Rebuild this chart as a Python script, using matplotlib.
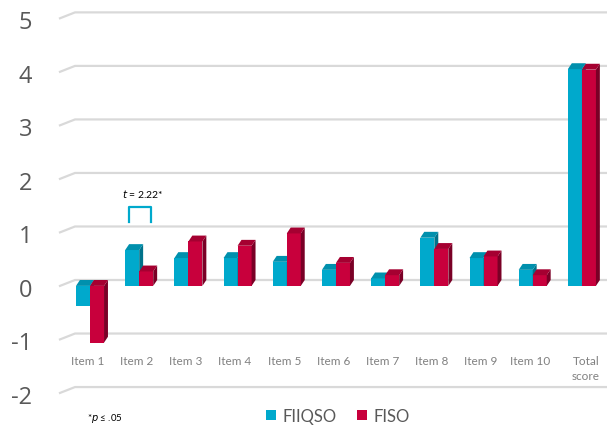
import numpy as np
import matplotlib.pyplot as plt
from matplotlib.patches import Polygon
from matplotlib.transforms import ScaledTranslation

# data
categories = ['Item 1', 'Item 2', 'Item 3', 'Item 4', 'Item 5', 'Item 6',
              'Item 7', 'Item 8', 'Item 9', 'Item 10', 'Total\nscore']
fiiqso = [-0.37, 0.67, 0.52, 0.52, 0.45, 0.30, 0.14, 0.90, 0.52, 0.30, 4.05]
fiso = [-1.06, 0.27, 0.83, 0.75, 0.98, 0.43, 0.20, 0.69, 0.55, 0.20, 4.04]
yticks = [-2, -1, 0, 1, 2, 3, 4, 5]

cyan = ['#00A9CC', '#0090AD', '#00728A']   # front, top, side
red = ['#C8003C', '#A50031', '#7A0026']

W, H = 607, 427
fig = plt.figure(figsize=(W / 100, H / 100), dpi=100)
plt.rcParams['font.family'] = ['Lato', 'DejaVu Sans']

# axes placed in pixel terms: left 60 -> right 607, top 0 -> bottom 410
ax = fig.add_axes([60 / W, (H - 410) / H, (W - 60) / W, 410 / H])
ax.set_xlim(-0.61, 10.51)
ax.set_ylim(-2.30, 5.36)
for s in ax.spines.values():
    s.set_visible(False)

# depth of the fake 3d effect in data units
dx, dy = 0.08, 0.11
wall = 0.305  # depth of the left wall

# gridlines on back wall with slanted corner on the left
for t in yticks:
    ax.plot([-0.61, -0.61 + wall, 10.6], [t, t + dy, t + dy],
            color='#D9D9D9', lw=1.6, zorder=1, clip_on=False,
            solid_joinstyle='round')

x = np.arange(len(categories))
w = 0.285


def bar3d(xs, vals, cols, z):
    ax.bar(xs, vals, width=w, color=cols[0], zorder=z, linewidth=0)
    for xc, v in zip(xs, vals):
        xl, xr = xc - w / 2, xc + w / 2
        lo, hi = min(v, 0), max(v, 0)
        side = Polygon([(xr, lo), (xr + dx, lo + dy), (xr + dx, hi + dy), (xr, hi)],
                       closed=True, fc=cols[2], ec='none', zorder=z)
        top = Polygon([(xl, hi), (xl + dx, hi + dy), (xr + dx, hi + dy), (xr, hi)],
                      closed=True, fc=cols[1], ec='none', zorder=z)
        ax.add_patch(side)
        ax.add_patch(top)


bar3d(x - w / 2, fiiqso, cyan, 2)
bar3d(x + w / 2, fiso, red, 3)

# category labels
for xc, lab in zip(x, categories):
    off = 0.08 if '\n' in lab else -0.05
    ax.text(xc + off, -1.30, lab, ha='center', va='top', fontsize=8.5,
            color='#808080', linespacing=1.4)

# value axis labels, a little below the front gridline position
ax.set_xticks([])
ax.set_yticks([])
lab_tr = ax.get_yaxis_transform() + ScaledTranslation(-28 / 100, -4 / 100,
                                                      fig.dpi_scale_trans)
for t in yticks:
    ax.text(0, t, str(t), transform=lab_tr, ha='right', va='center',
            fontsize=17, color='#595959', family='Open Sans')

# significance bracket for item 2
bx0, bx1 = x[1] - w / 2 - 0.06, x[1] + w / 2 + 0.09
ax.plot([bx0, bx0, bx1, bx1], [1.20, 1.47, 1.47, 1.20], color='#00A9CC',
        lw=1.6, zorder=4, solid_joinstyle='round')
ax.text((bx0 + bx1) / 2 + 0.05, 1.74, r'$\it{t}$ = 2.22*', ha='center',
        va='center', fontsize=7.5, color='black')

# footnote and legend
fig.text(87 / W, 1 - 419 / H, r'*$\it{p}$ ≤ .05', fontsize=7, va='center',
         color='black')
handles = [plt.Rectangle((0, 0), 1, 1, fc=cyan[0]),
           plt.Rectangle((0, 0), 1, 1, fc=red[0])]
leg = fig.legend(handles, ['FIIQSO', 'FISO'], loc='center',
                 bbox_to_anchor=(338 / W, 1 - 417 / H), ncol=2, frameon=False,
                 fontsize=12, handlelength=0.6, handleheight=0.6,
                 handletextpad=0.4, columnspacing=1.2)
for tx in leg.get_texts():
    tx.set_color('#595959')

fig.savefig('out.png', dpi=100)
